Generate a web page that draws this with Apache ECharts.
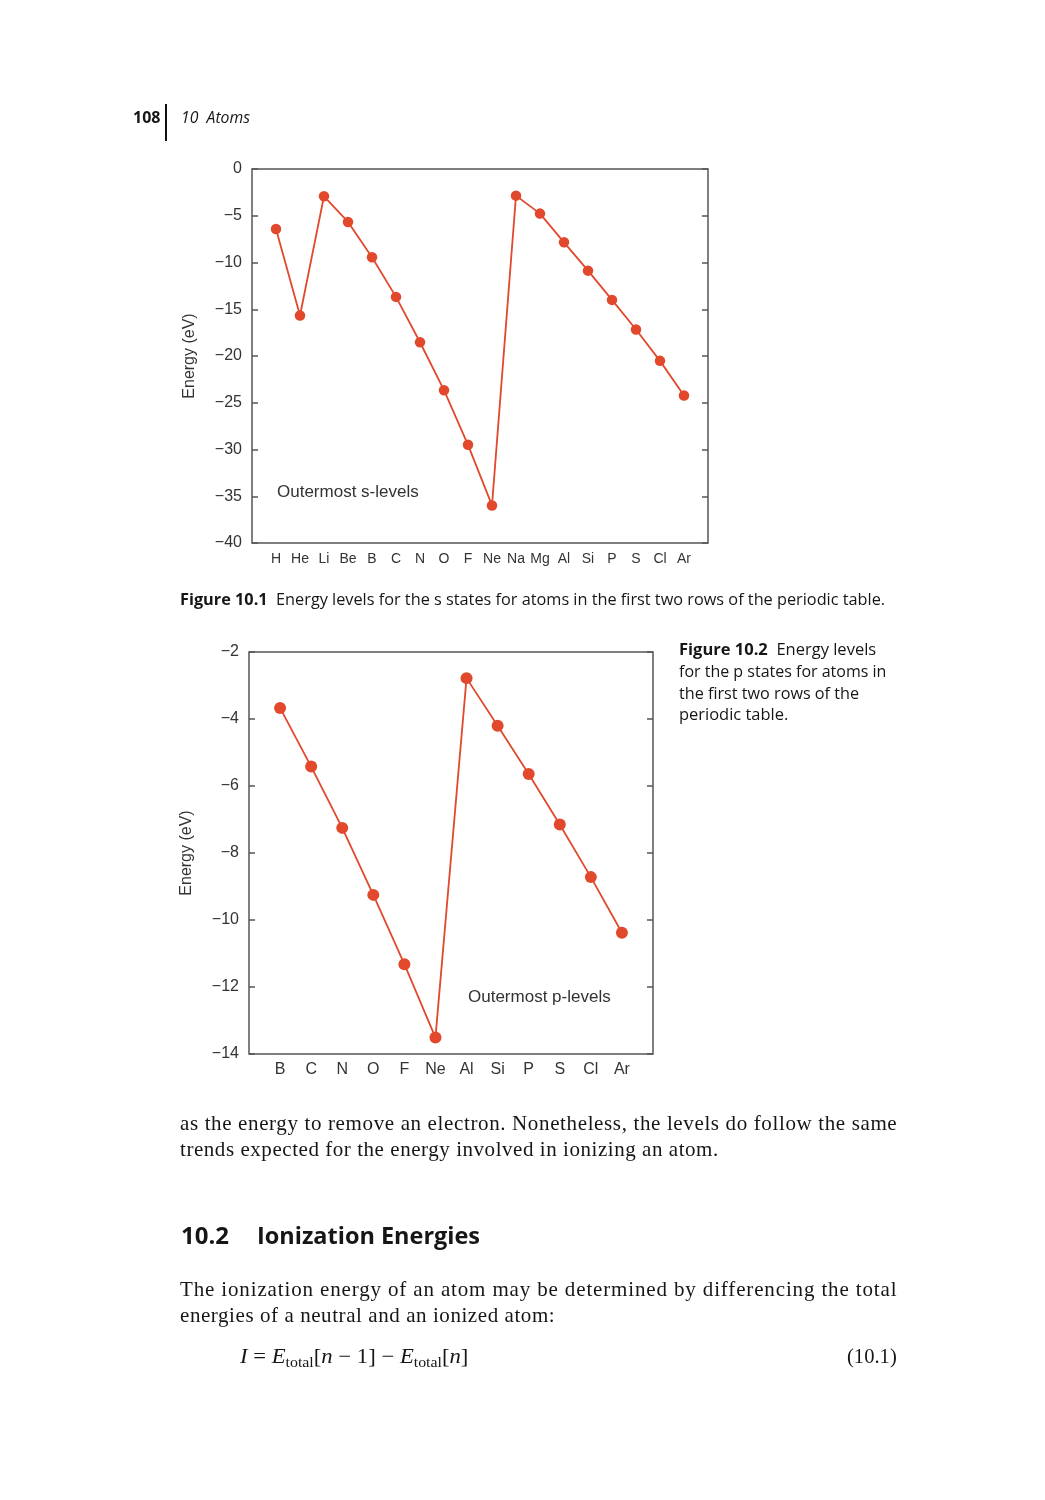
<!DOCTYPE html>
<html><head><meta charset="utf-8">
<script src="https://cdn.jsdelivr.net/npm/echarts@6/dist/echarts.min.js"></script>
<style>
html,body{margin:0;padding:0;background:#fff;}
#chart{position:absolute;left:0;top:0;width:1045px;height:1500px;}
.t{position:absolute;white-space:nowrap;color:#161616;transform-origin:0 50%;line-height:1.2;}
.sans{font-family:"Open Sans",sans-serif;}
.serif{font-family:"Liberation Serif",serif;}
#bar{position:absolute;left:165px;top:104px;width:2px;height:37px;background:#111;}
sub{font-size:70%;vertical-align:-0.3em;line-height:0;}
</style></head><body>
<div id="chart"></div>
<div id="bar"></div>
<div class="t sans" data-x="133" data-cy="117" data-w="27" style="font-weight:700;font-size:16px">108</div>
<div class="t sans" data-x="181" data-cy="117" data-w="69" style="font-style:italic;font-size:16px">10&nbsp;&nbsp;Atoms</div>
<div class="t sans" data-x="180" data-cy="599" data-w="705" style="font-size:16px"><b>Figure 10.1</b>&nbsp;&nbsp;Energy levels for the s states for atoms in the first two rows of the periodic table.</div>
<div class="t sans" data-x="679" data-cy="649" data-w="197" style="font-size:16px"><b>Figure 10.2</b>&nbsp;&nbsp;Energy levels</div>
<div class="t sans" data-x="679" data-cy="671" data-w="207" style="font-size:16px">for the p states for atoms in</div>
<div class="t sans" data-x="679" data-cy="693" data-w="180" style="font-size:16px">the first two rows of the</div>
<div class="t sans" data-x="679" data-cy="714" data-w="109" style="font-size:16px">periodic table.</div>
<div class="t serif" data-x="180" data-cy="1123" data-j="717" style="font-size:21px">as the energy to remove an electron. Nonetheless, the levels do follow the same</div>
<div class="t serif" data-x="180" data-cy="1149" data-j="539" style="font-size:21px">trends expected for the energy involved in ionizing an atom.</div>
<div class="t sans" data-x="181" data-cy="1235" data-w="48" style="font-size:24px;font-weight:700">10.2</div>
<div class="t sans" data-x="257" data-cy="1235" data-w="223" style="font-size:24px;font-weight:700">Ionization Energies</div>
<div class="t serif" data-x="180" data-cy="1289" data-j="717" style="font-size:21px">The ionization energy of an atom may be determined by differencing the total</div>
<div class="t serif" data-x="180" data-cy="1315" data-j="375" style="font-size:21px">energies of a neutral and an ionized atom:</div>
<div class="t serif" data-x="240" data-cy="1356" data-w="228" style="font-size:21px"><i>I</i> = <i>E</i><sub>total</sub>[<i>n</i> − 1] − <i>E</i><sub>total</sub>[<i>n</i>]</div>
<div class="t serif" data-x="847" data-cy="1356" data-w="50" style="font-size:21px">(10.1)</div>
<script>
// ---- data ----
const sCategories = ['H','He','Li','Be','B','C','N','O','F','Ne','Na','Mg','Al','Si','P','S','Cl','Ar'];
const sEnergies = [-6.41,-15.67,-2.92,-5.66,-9.44,-13.68,-18.53,-23.66,-29.5,-35.98,-2.85,-4.77,-7.84,-10.87,-14.0,-17.17,-20.52,-24.22];
const pCategories = ['B','C','N','O','F','Ne','Al','Si','P','S','Cl','Ar'];
const pEnergies = [-3.67,-5.42,-7.25,-9.25,-11.32,-13.51,-2.78,-4.20,-5.64,-7.15,-8.72,-10.38];
const sYRange = [-40, 0, 5];
const pYRange = [-14, -2, 2];
const sNote = 'Outermost s-levels';
const pNote = 'Outermost p-levels';
const yName = 'Energy (eV)';

// ---- page text layout ----
document.querySelectorAll('.t').forEach(el => {
  const x = +el.dataset.x, cy = +el.dataset.cy;
  el.style.left = x + 'px';
  el.style.top = (cy - el.offsetHeight / 2) + 'px';
  if (el.dataset.w) {
    const w = el.scrollWidth;
    el.style.transform = 'scaleX(' + (+el.dataset.w / w) + ')';
  } else if (el.dataset.j) {
    const w = el.scrollWidth;
    const n = el.textContent.length;
    el.style.letterSpacing = ((+el.dataset.j - w) / n) + 'px';
  }
});

// ---- chart ----
const FONT = '"Liberation Sans", Arial, sans-serif';
const RED = '#e2482c';
const AX = '#555';
const minus = v => String(v).replace('-', '\u2212');

function yAxes(range, gridIndex) {
  const common = {
    type: 'value', gridIndex, min: range[0], max: range[1], interval: range[2],
    axisLine: { show: false }, splitLine: { show: false },
    axisTick: { show: true, inside: true, length: 6, lineStyle: { color: AX, width: 1.5 } }
  };
  return [
    Object.assign({}, common, {
      position: 'left',
      axisLabel: { margin: 10, fontSize: 16, color: '#333', fontFamily: FONT, formatter: minus },
      name: yName, nameLocation: 'middle', nameGap: 54,
      nameTextStyle: { fontSize: 16, color: '#333', fontFamily: FONT }
    }),
    Object.assign({}, common, { position: 'right', axisLabel: { show: false } })
  ];
}
function xAxis(cats, gridIndex, fs, margin) {
  return {
    type: 'value', gridIndex, min: 0, max: cats.length + 1, interval: 1,
    axisLine: { show: false }, axisTick: { show: false }, splitLine: { show: false },
    axisLabel: { fontSize: fs, color: '#333', fontFamily: FONT, margin,
      showMinLabel: true, showMaxLabel: true,
      formatter: v => cats[v - 1] || '' }
  };
}
function lineSeries(vals, xi, yi, size) {
  return {
    type: 'line', xAxisIndex: xi, yAxisIndex: yi,
    data: vals.map((v, i) => [i + 1, v]),
    symbol: 'circle', symbolSize: size, color: RED,
    lineStyle: { color: RED, width: 1.8 }, itemStyle: { color: RED },
    animation: false
  };
}

const chart = echarts.init(document.getElementById('chart'), null, { renderer: 'canvas' });
chart.setOption({
  backgroundColor: 'transparent',
  animation: false,
  grid: [
    { left: 252, top: 169, width: 456, height: 374, show: true, borderColor: AX, borderWidth: 1.5, backgroundColor: 'transparent' },
    { left: 249, top: 652, width: 404, height: 402, show: true, borderColor: AX, borderWidth: 1.5, backgroundColor: 'transparent' }
  ],
  xAxis: [xAxis(sCategories, 0, 14, 9), xAxis(pCategories, 1, 16, 8)],
  yAxis: yAxes(sYRange, 0).concat(yAxes(pYRange, 1)),
  series: [lineSeries(sEnergies, 0, 0, 10.5), lineSeries(pEnergies, 1, 2, 12)],
  graphic: [
    { type: 'text', left: 277, top: 484, style: { text: sNote, font: '17px ' + FONT, fill: '#333' } },
    { type: 'text', left: 468, top: 989, style: { text: pNote, font: '17px ' + FONT, fill: '#333' } }
  ]
});
</script>
</body></html>
